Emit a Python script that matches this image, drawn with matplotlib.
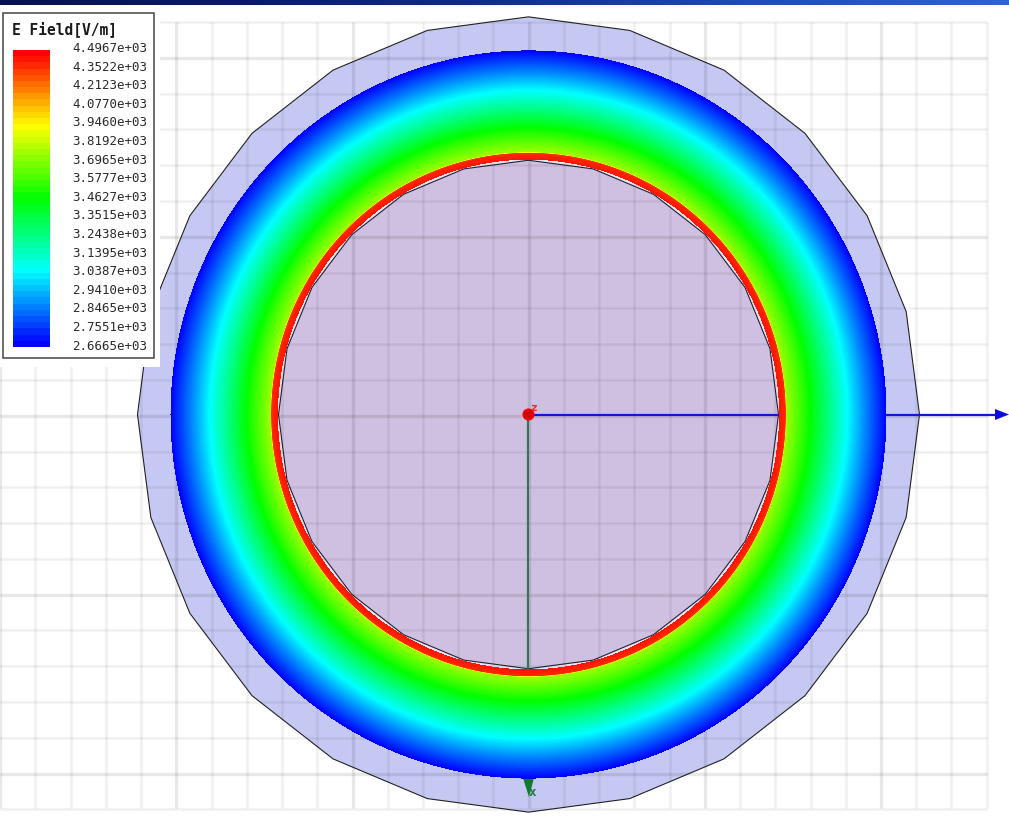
#!/usr/bin/env python3
"""E field magnitude across a coaxial cross-section, field-solver style view."""

from __future__ import annotations

import numpy as np
import matplotlib
matplotlib.use("Agg")
import matplotlib.pyplot as plt
from matplotlib.colors import LinearSegmentedColormap
from matplotlib.patches import Circle, Ellipse, Polygon, Rectangle

legend_title = "E Field[V/m]"
legend_values = [
    4.4967e3, 4.3522e3, 4.2123e3, 4.0770e3, 3.9460e3, 3.8192e3, 3.6965e3, 3.5777e3, 3.4627e3,
    3.3515e3, 3.2438e3, 3.1395e3, 3.0387e3, 2.9410e3, 2.8465e3, 2.7551e3, 2.6665e3,
]

# radial profile read along the +y axis of the picture (radius in pixels, field in V/m)
profile_radius = [250.5, 257, 258, 282, 300, 319, 338, 358]
profile_field = [4.4500e3, 4.4000e3, 3.7500e3, 3.4627e3, 3.2438e3, 3.0387e3, 2.8465e3, 2.6665e3]

rainbow = ["#ff0000", "#ffff00", "#00ff00", "#00ffff", "#0000ff"]
banner_colors = ["#06124f", "#0a1c66", "#10308c", "#1f4cb8", "#2f62d2"]

CX, CY = 528.5, 414.5
ASPECT = 1.017
N_SIDES = 24
R_OUTER = 391
R_INNER = 250


def ngon(radius):
    t = np.linspace(0, 2 * np.pi, N_SIDES, endpoint=False)
    return np.column_stack([CX + radius * np.cos(t), CY + ASPECT * radius * np.sin(t)])


def main():
    fig = plt.figure(figsize=(10.09, 8.17), dpi=100)
    ax = fig.add_axes([0, 0, 1, 1])
    ax.axis("off")

    cmap = LinearSegmentedColormap.from_list("field", rainbow)

    # header strip of the slide
    ax.imshow(
        np.linspace(0, 1, 256)[None, :],
        cmap=LinearSegmentedColormap.from_list("banner", banner_colors),
        extent=(0, 1009, 5, 0),
        aspect="auto",
        zorder=10,
    )

    # model: air box and inner conductor
    ax.add_patch(Polygon(ngon(R_OUTER), fc="#c5c8f2", ec="#222222", lw=0.8, zorder=2))
    ax.add_patch(Ellipse((CX, CY), 2 * R_INNER + 4, ASPECT * (2 * R_INNER + 4), fc="#e6e6f6", ec="none", zorder=2))
    ax.add_patch(Polygon(ngon(R_INNER), fc="#cfbfe0", ec="#222233", lw=0.8, zorder=2))

    # grid shows through the model, so it goes on top as a faint dark line
    for k in range(29):
        x = k * 35.23 + 0.25
        major = k % 5 == 0
        ax.plot([x, x], [22, 808], color="k", alpha=0.09 if major else 0.06,
                lw=2.4 if major else 1.9, zorder=3, solid_capstyle="butt")
    for k in range(23):
        y = k * 35.8 + 21.9
        major = k % 5 == 1
        ax.plot([0, 987], [y, y], color="k", alpha=0.09 if major else 0.06,
                lw=2.4 if major else 1.9, zorder=3, solid_capstyle="butt")

    # coordinate axes
    ax.plot([CX, 997], [414.5, 414.5], color="#1414e6", lw=1.6, zorder=4)
    ax.add_patch(Polygon([[995, 409], [1009, 414.5], [995, 420]], fc="#0a0ae0", ec="none", zorder=4))
    ax.plot([527.5, 527.5], [414.5, 780], color="#2f7a55", lw=1.6, zorder=4)
    ax.add_patch(Polygon([[523, 778], [534, 778], [529, 797]], fc="#127a2a", ec="none", zorder=4))
    ax.text(532.5, 793, "x", color="#1a7a4a", fontsize=9, fontweight="bold",
            family="DejaVu Sans Mono", ha="center", va="center", zorder=7)

    # field ring, one cell per output pixel
    levels = np.linspace(0, 1, len(legend_values))
    level = np.interp(profile_field, legend_values[::-1], levels[::-1])
    px, py = np.meshgrid(np.arange(1009) + 0.5, np.arange(817) + 0.5)
    rad = np.hypot(px - CX, (py - CY) / ASPECT)
    ring = np.ma.masked_where((rad < profile_radius[0]) | (rad > profile_radius[-1]),
                              np.interp(rad, profile_radius, level))
    ax.imshow(ring, cmap=cmap, vmin=0, vmax=1, extent=(0, 1009, 817, 0), aspect="auto",
              interpolation="nearest", zorder=5)

    # origin marker
    ax.add_patch(Circle((528.5, 414.5), 5.5, fc="#d80000", ec="#ff0000", lw=0.8, zorder=6))
    ax.text(533.5, 407.5, "z", color="#ee2222", fontsize=8, fontweight="bold", family="DejaVu Sans Mono",
            ha="center", va="center", zorder=7)

    # legend
    ax.add_patch(Rectangle((0, 0), 160, 367, fc="white", ec="none", zorder=8))
    ax.imshow(
        np.linspace(0, 1, 48)[:, None],
        cmap=cmap,
        extent=(13, 50, 347, 50),
        aspect="auto",
        interpolation="nearest",
        zorder=9,
    )
    ax.add_patch(Rectangle((3, 13), 151, 345, fc="none", ec="#444444", lw=1.1, zorder=9))
    ax.text(12, 29, legend_title, fontsize=10.5, fontweight="bold", family="DejaVu Sans Mono",
            color="#1a1a1a", ha="left", va="center", zorder=9)
    for v, y in zip(legend_values, np.linspace(48.5, 346, len(legend_values))):
        ax.text(147, y, f"{v:.4e}", fontsize=9, family="DejaVu Sans Mono",
                color="#2a2a2a", ha="right", va="center", zorder=9)

    ax.set_xlim(0, 1009)
    ax.set_ylim(817, 0)
    fig.savefig("out.png", dpi=100)


if __name__ == "__main__":
    main()
